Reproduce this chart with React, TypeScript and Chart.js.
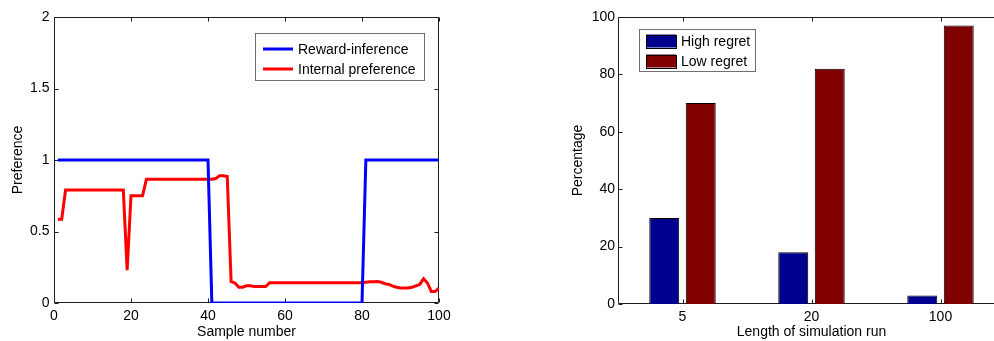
import React, { useEffect, useRef } from 'react';
import { Chart, registerables } from 'chart.js';

Chart.register(...registerables);

// ---------- Data: left panel ----------
const samples = Array.from({ length: 100 }, (_, i) => i + 1);
const rewardInference = [
  1, 1, 1, 1, 1, 1, 1, 1, 1, 1,
  1, 1, 1, 1, 1, 1, 1, 1, 1, 1,
  1, 1, 1, 1, 1, 1, 1, 1, 1, 1,
  1, 1, 1, 1, 1, 1, 1, 1, 1, 1,
  0, 0, 0, 0, 0, 0, 0, 0, 0, 0,
  0, 0, 0, 0, 0, 0, 0, 0, 0, 0,
  0, 0, 0, 0, 0, 0, 0, 0, 0, 0,
  0, 0, 0, 0, 0, 0, 0, 0, 0, 0,
  1, 1, 1, 1, 1, 1, 1, 1, 1, 1,
  1, 1, 1, 1, 1, 1, 1, 1, 1, 1,
];
const internalPreference = [
  0.585, 0.585, 0.79, 0.79, 0.79, 0.79, 0.79, 0.79, 0.79, 0.79,
  0.79, 0.79, 0.79, 0.79, 0.79, 0.79, 0.79, 0.79, 0.23, 0.75,
  0.75, 0.75, 0.75, 0.865, 0.865, 0.865, 0.865, 0.865, 0.865, 0.865,
  0.865, 0.865, 0.865, 0.865, 0.865, 0.865, 0.865, 0.865, 0.865, 0.865,
  0.865, 0.87, 0.89, 0.89, 0.885, 0.15, 0.14, 0.11, 0.11, 0.12,
  0.12, 0.115, 0.115, 0.115, 0.115, 0.142, 0.142, 0.142, 0.142, 0.142,
  0.142, 0.142, 0.142, 0.142, 0.142, 0.142, 0.142, 0.142, 0.142, 0.142,
  0.142, 0.142, 0.142, 0.142, 0.142, 0.142, 0.142, 0.142, 0.142, 0.142,
  0.145, 0.148, 0.148, 0.15, 0.145, 0.135, 0.13, 0.118, 0.11, 0.105,
  0.105, 0.105, 0.11, 0.12, 0.13, 0.17, 0.14, 0.08, 0.08, 0.105,
];
const lineXTicks = [0, 20, 40, 60, 80, 100];
const lineYTicks = [0, 0.5, 1, 1.5, 2];

// ---------- Data: right panel ----------
const runLengths = ['5', '20', '100'];
const highRegret = [30, 18, 3];
const lowRegret = [70, 82, 97];
const barYTicks = [0, 20, 40, 60, 80, 100];

const FONT = '"Liberation Sans", Arial, Helvetica, sans-serif';
const font14 = { family: FONT, size: 14 };
const plainNum = (v: any) => String(v);

// Axes box with inward ticks on all four sides (MATLAB style)
const framePlugin = {
  id: 'matFrame',
  beforeDatasetsDraw(chart: any) {
    const { ctx, chartArea: a, scales } = chart;
    const L = Math.round(a.left) + 0.5;
    const R = Math.round(a.right) - 0.5;
    const T = Math.round(a.top) + 0.5;
    const B = Math.round(a.bottom) - 0.5;
    const tl = 4;
    ctx.save();
    ctx.strokeStyle = '#1e1e1e';
    ctx.lineWidth = 1;
    ctx.beginPath();
    ctx.rect(L, T, R - L, B - T);
    const xs = scales.x;
    xs.ticks.forEach((_: any, i: number) => {
      const px = Math.round(xs.getPixelForTick(i)) + 0.5;
      ctx.moveTo(px, B); ctx.lineTo(px, B - tl);
      ctx.moveTo(px, T); ctx.lineTo(px, T + tl);
    });
    const ys = scales.y;
    ys.ticks.forEach((_: any, i: number) => {
      const py = Math.round(ys.getPixelForTick(i)) + 0.5;
      ctx.moveTo(L, py); ctx.lineTo(L + tl, py);
      ctx.moveTo(R, py); ctx.lineTo(R - tl, py);
    });
    ctx.stroke();
    ctx.restore();
  },
};

// In-axes legend box
const boxLegendPlugin = {
  id: 'boxLegend',
  afterDraw(chart: any, _args: any, opts: any) {
    if (!opts || !opts.items) return;
    const { ctx, chartArea: a } = chart;
    const x0 = opts.anchor === 'right' ? a.right - opts.dx - opts.w : a.left + opts.dx;
    const y0 = a.top + opts.dy;
    ctx.save();
    ctx.fillStyle = '#fff';
    ctx.fillRect(x0, y0, opts.w, opts.h);
    ctx.strokeStyle = '#707070';
    ctx.lineWidth = 1;
    ctx.strokeRect(Math.round(x0) + 0.5, Math.round(y0) + 0.5, opts.w, opts.h);
    ctx.font = `14px ${FONT}`;
    ctx.textBaseline = 'middle';
    ctx.textAlign = 'left';
    opts.items.forEach((it: any, i: number) => {
      const cy = y0 + opts.firstRow + i * opts.rowGap;
      const sx = x0 + opts.padL;
      if (it.kind === 'line') {
        ctx.strokeStyle = it.color;
        ctx.lineWidth = 3;
        ctx.beginPath();
        ctx.moveTo(sx, cy);
        ctx.lineTo(sx + opts.swatchW, cy);
        ctx.stroke();
      } else {
        ctx.fillStyle = it.color;
        ctx.fillRect(sx, cy - 6.5, opts.swatchW, 13);
        ctx.strokeStyle = '#000';
        ctx.lineWidth = 1;
        ctx.strokeRect(Math.round(sx) + 0.5, Math.round(cy - 6.5) + 0.5, opts.swatchW, 13);
      }
      ctx.fillStyle = '#000';
      ctx.fillText(it.label, sx + opts.swatchW + opts.gap, cy + 1);
    });
    ctx.restore();
  },
};

export default function App() {
  const leftRef = useRef<HTMLCanvasElement>(null);
  const rightRef = useRef<HTMLCanvasElement>(null);

  useEffect(() => {
    const lineChart = new Chart(leftRef.current as HTMLCanvasElement, {
      type: 'line',
      data: {
        datasets: [
          {
            label: 'Reward-inference',
            data: samples.map((s, i) => ({ x: s, y: rewardInference[i] })),
            borderColor: '#0000ff',
            borderWidth: 3,
            pointRadius: 0,
            tension: 0,
            fill: false,
          },
          {
            label: 'Internal preference',
            data: samples.map((s, i) => ({ x: s, y: internalPreference[i] })),
            borderColor: '#ff0000',
            borderWidth: 3,
            pointRadius: 0,
            tension: 0,
            fill: false,
          },
        ],
      },
      options: {
        responsive: false,
        animation: false,
        events: [],
        layout: { padding: { left: 0, top: 17, right: 31, bottom: 0 } },
        plugins: {
          legend: { display: false },
          tooltip: { enabled: false },
          boxLegend: {
            anchor: 'right', dx: 15, dy: 16, w: 169, h: 47,
            padL: 8, swatchW: 30, gap: 5, firstRow: 16, rowGap: 20,
            items: [
              { kind: 'line', color: '#0000ff', label: 'Reward-inference' },
              { kind: 'line', color: '#ff0000', label: 'Internal preference' },
            ],
          },
        } as any,
        scales: {
          x: {
            type: 'linear',
            min: 0,
            max: 100,
            afterBuildTicks: (s: any) => { s.ticks = lineXTicks.map((v) => ({ value: v })); },
            afterFit: (s: any) => { s.height = 38; },
            grid: { display: false, drawTicks: false, tickLength: 0 },
            border: { display: false },
            ticks: { padding: 4.5, color: '#000', font: font14, maxRotation: 0, autoSkip: false, callback: plainNum },
            title: { display: true, text: 'Sample number', color: '#000', font: font14, padding: { top: 0, bottom: 0.8 } },
          },
          y: {
            type: 'linear',
            min: 0,
            max: 2,
            afterBuildTicks: (s: any) => { s.ticks = lineYTicks.map((v) => ({ value: v })); },
            afterFit: (s: any) => { s.width = 54; },
            grid: { display: false, drawTicks: false, tickLength: 0 },
            border: { display: false },
            ticks: { padding: 4.5, color: '#000', font: font14, callback: plainNum },
            title: { display: true, text: 'Preference', color: '#000', font: font14, padding: { top: 9.4, bottom: 0 } },
          },
        },
      },
      plugins: [framePlugin, boxLegendPlugin],
    } as any);

    const barChart = new Chart(rightRef.current as HTMLCanvasElement, {
      type: 'bar',
      data: {
        labels: runLengths,
        datasets: [
          {
            label: 'High regret',
            data: highRegret,
            backgroundColor: '#00008f',
            borderColor: '#000000',
            borderWidth: 1,
            categoryPercentage: 0.566,
            barPercentage: 0.82,
          },
          {
            label: 'Low regret',
            data: lowRegret,
            backgroundColor: '#800000',
            borderColor: '#000000',
            borderWidth: 1,
            categoryPercentage: 0.566,
            barPercentage: 0.82,
          },
        ],
      },
      options: {
        responsive: false,
        animation: false,
        events: [],
        layout: { padding: { left: 0, top: 17, right: 0, bottom: 0 } },
        plugins: {
          legend: { display: false },
          tooltip: { enabled: false },
          boxLegend: {
            anchor: 'left', dx: 21, dy: 12, w: 116, h: 42,
            padL: 7, swatchW: 30, gap: 5, firstRow: 12, rowGap: 20,
            items: [
              { kind: 'box', color: '#00008f', label: 'High regret' },
              { kind: 'box', color: '#800000', label: 'Low regret' },
            ],
          },
        } as any,
        scales: {
          x: {
            type: 'category',
            offset: true,
            afterFit: (s: any) => { s.height = 37; },
            grid: { display: false, drawTicks: false, tickLength: 0, offset: true },
            border: { display: false },
            ticks: { padding: 4.5, color: '#000', font: font14, maxRotation: 0, autoSkip: false },
            title: { display: true, text: 'Length of simulation run', color: '#000', font: font14, padding: { top: 0, bottom: 0.8 } },
          },
          y: {
            type: 'linear',
            min: 0,
            max: 100,
            afterBuildTicks: (s: any) => { s.ticks = barYTicks.map((v) => ({ value: v })); },
            afterFit: (s: any) => { s.width = 58; },
            grid: { display: false, drawTicks: false, tickLength: 0 },
            border: { display: false },
            ticks: { padding: 3, color: '#000', font: font14, callback: plainNum },
            title: { display: true, text: 'Percentage', color: '#000', font: font14, padding: { top: 9.9, bottom: 0 } },
          },
        },
      },
      plugins: [framePlugin, boxLegendPlugin],
    } as any);

    return () => {
      lineChart.destroy();
      barChart.destroy();
    };
  }, []);

  return (
    <div
      style={{
        position: 'fixed',
        left: 0,
        top: 0,
        width: 994,
        height: 341,
        overflow: 'hidden',
        background: '#ffffff',
      }}
    >
      <div style={{ position: 'absolute', left: 0, top: 0, width: 470, height: 341 }}>
        <canvas ref={leftRef} width={470} height={341} style={{ width: 470, height: 341, display: 'block' }} />
      </div>
      <div style={{ position: 'absolute', left: 560, top: 0, width: 445, height: 341 }}>
        <canvas ref={rightRef} width={445} height={341} style={{ width: 445, height: 341, display: 'block' }} />
      </div>
    </div>
  );
}
